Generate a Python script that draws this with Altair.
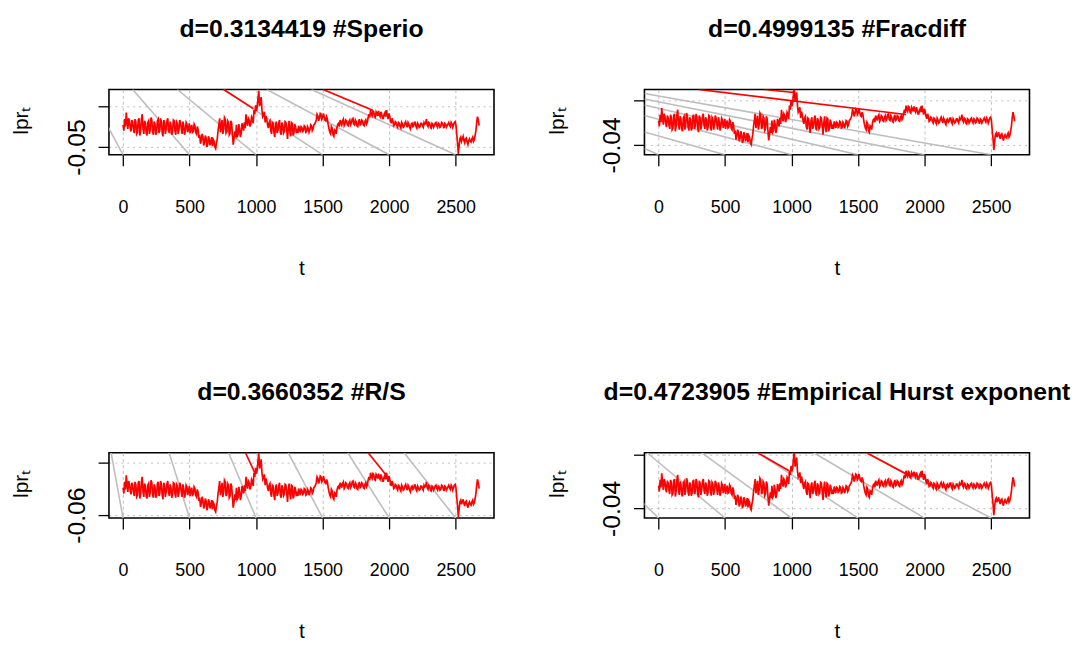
import altair as alt
import pandas as pd

lpr = [
    0.004, 0.018, 0.034, -0.006, 0.014, -0.012, 0.010, -0.016,
    0.012, -0.014, 0.020, -0.010, 0.030, -0.018, 0.008, -0.022, 0.014, -0.008,
    0.016, -0.020, 0.006, -0.014, 0.018, -0.010, 0.012, -0.024, 0.010, -0.006,
    0.020, -0.016, 0.004, -0.012, 0.014, -0.020, 0.008, -0.008, 0.010, -0.018,
    0.002, -0.012, 0.006,
    -0.004, -0.016, 0.004, -0.012, 0.002, -0.018, -0.008,
    -0.020, -0.034, -0.024, -0.040, -0.028, -0.044, -0.030, -0.038, -0.048, -0.036, -0.054, -0.030,
    0.004, -0.014, 0.016, -0.006, 0.018, -0.012, 0.010, -0.016, 0.008,
    -0.044, -0.012, 0.004, -0.020, -0.006, -0.016, 0.000,
    0.010, 0.030, 0.002, 0.016, 0.006, 0.020,
    0.040, 0.052, 0.046, 0.087, 0.060, 0.040,
    0.028, 0.010, 0.018,
    -0.004, 0.014, -0.018, 0.008, -0.026, 0.012, -0.010, 0.016, -0.020, 0.004, -0.012, 0.010,
    -0.030, 0.014, -0.024, 0.008, -0.016, 0.000,
    -0.010, 0.002, -0.014, -0.002, -0.010, 0.000, -0.012, -0.004, -0.008, 0.002, -0.006, 0.006,
    0.016, 0.026, 0.020, 0.030, 0.022, 0.024, 0.014, 0.018,
    -0.006, -0.018, -0.004, -0.024, -0.010, -0.002,
    0.008, 0.016, 0.004, 0.018, 0.006, 0.014, 0.002, 0.016, 0.008, 0.020, 0.004, 0.012,
    0.000, 0.018, 0.006, 0.014, 0.002, 0.016, 0.010,
    0.030, 0.040, 0.026, 0.036, 0.022, 0.032, 0.038, 0.024, 0.030, 0.020, 0.034, 0.040,
    0.018, 0.026, 0.008, 0.014, 0.004,
    0.010, -0.002, 0.008, -0.004, 0.006, 0.000, 0.012, -0.002, 0.006, -0.006, 0.008, 0.002,
    0.010, -0.004, 0.004, 0.000, 0.008, -0.002, 0.006, 0.018, 0.000, 0.008, -0.004, 0.006,
    0.002, 0.010, -0.002, 0.006, 0.000, 0.008, -0.004, 0.006, 0.002, 0.010, 0.000, 0.006,
    0.004, 0.012,
    -0.020, -0.067, -0.030,
    -0.036, -0.024, -0.040, -0.028, -0.044, -0.030, -0.038, -0.026, -0.032,
    -0.010, 0.024, 0.002,
]
lpr_mid = [
    -0.010, 0.000, 0.012, 0.020, -0.004, 0.016, -0.006, 0.018,
    -0.018, 0.016, -0.022, 0.018, -0.006, 0.014, -0.016, 0.010, -0.018, 0.022,
    -0.012, 0.012, -0.020, 0.014, -0.016, 0.020, -0.014, 0.016, -0.018, 0.014,
    -0.008, 0.012, -0.020, 0.016, -0.010, 0.012, -0.018, 0.016, -0.006, 0.012,
    -0.020, 0.010, -0.014,
    0.008, -0.004, -0.014, 0.006, -0.014, 0.000, -0.028,
    -0.042, -0.018, -0.046, -0.022, -0.050, -0.024, -0.046, -0.026, -0.032, -0.050, -0.040, -0.010,
    0.020, -0.002, -0.018, 0.022, -0.016, 0.014, -0.020, 0.014, -0.020,
    -0.030, -0.026, -0.024, 0.006, -0.026, 0.008, -0.010,
    -0.004, 0.012, 0.020, 0.000, 0.024, 0.008,
    0.030, 0.038, 0.068, 0.050, 0.072, 0.024,
    0.036, 0.026, 0.004,
    0.010, -0.010, 0.010, -0.014, 0.004, -0.016, 0.008, -0.014, 0.010, -0.016, 0.012, -0.008,
    -0.002, -0.012, 0.010, -0.022, 0.006, -0.016,
    -0.016, -0.006, 0.000, -0.012, 0.002, -0.014, 0.000, -0.014, 0.004, -0.010, 0.004, 0.010,
    0.030, 0.014, 0.032, 0.018, 0.032, 0.016, 0.024, 0.004,
    -0.014, 0.000, -0.020, -0.008, -0.018, 0.006,
    0.000, 0.010, 0.014, 0.002, 0.016, 0.004, 0.012, 0.004, 0.018, 0.006, 0.016, 0.002,
    0.012, 0.004, 0.016, 0.004, 0.012, 0.006, 0.022,
    0.022, 0.030, 0.038, 0.024, 0.036, 0.026, 0.028, 0.036, 0.020, 0.030, 0.024, 0.028,
    0.032, 0.014, 0.020, 0.002, 0.012,
    0.002, 0.010, 0.000, 0.010, -0.002, 0.008, 0.004, 0.010, -0.002, 0.006, 0.000, 0.010,
    0.000, 0.008, -0.002, 0.008, 0.002, 0.010, 0.008, 0.004, 0.010, -0.002, 0.008, -0.002,
    0.008, 0.002, 0.008, -0.002, 0.010, 0.002, 0.008, -0.002, 0.006, 0.004, 0.010, -0.002,
    0.010, 0.004,
    -0.040, -0.046, -0.026,
    -0.030, -0.034, -0.030, -0.038, -0.034, -0.036, -0.030, -0.036, -0.022,
    0.010, 0.016,
]
STEP = 12

titles = ["d=0.3134419 #Sperio", "d=0.4999135 #Fracdiff",
          "d=0.3660352 #R/S", "d=0.4723905 #Empirical Hurst exponent"]
# per-panel scaling of the series (panel units)
gain = [1.0, 0.3733, 0.4757, 0.3889]
shift = [0.0, -0.0196, -0.0306, -0.0204]
ymin = [-0.069, -0.0489, -0.0634, -0.0491]
ymax = [0.0905, 0.0098, 0.0113, 0.0120]
yticks = [
    [-0.05, 0.0, 0.05],
    [-0.04, -0.03, -0.02, -0.01, 0.0],
    [-0.06, -0.05, -0.04, -0.03, -0.02, -0.01, 0.0],
    [-0.04, -0.03, -0.02, -0.01, 0.0, 0.01],
]
ylabels = ["-0.05", "-0.04", "-0.06", "-0.04"]
xticks = [0, 500, 1000, 1500, 2000, 2500]
xdom = [-106, 2788]

# gray lines: bottom point t (at ymin) to upper point (t, y)
gray_bottom_t = [0, 500, 1000, 1500, 2000, 2500]
gray_top_t = [
    [-264, 72, 408, 756, 1080, 1416],
    [-106, -106, -106, -106, -106, -106],
    [-90, 346, 793, 1241, 1689, 2112],
    [-500, -86, 323, 744, 1166, 1563],
]
gray_top_y = [
    None,
    [-0.0433, -0.0284, -0.0136, -0.0042, 0.0012, 0.0062],
    None,
    None,
]
# red segments: (t_start, y_start, t_end, y_end)
red_t0 = [[756, 1503], [300, 794], [920, 1842], [745, 1563]]
red_y0 = [[0.0905, 0.0905], [0.0098, 0.0098], [0.0113, 0.0113], [0.0120, 0.0120]]
red_t1 = [[980, 1876], [1860, 1017], [995, 1992], [980, 1885]]
red_y1 = [[0.0437, 0.040], [-0.0127, 0.0071], [-0.0132, -0.017], [-0.0049, -0.0096]]

FONT = "Liberation Sans"

# interleave samples and mid-points into one ordered series
series_t, series_v = [], []
for i, v in enumerate(lpr):
    series_t.append(STEP * i)
    series_v.append(v)
    if i < len(lpr_mid):
        series_t.append(STEP * i + STEP // 2)
        series_v.append(lpr_mid[i])


def panel(p):
    xs = alt.Scale(domain=xdom, nice=False, zero=False)
    ys = alt.Scale(domain=[ymin[p], ymax[p]], nice=False, zero=False)
    low = yticks[p][0]
    xaxis = alt.Axis(values=xticks, title="t", format="d", grid=True, gridColor="#BEBEBE",
                     gridDash=[3, 3], gridWidth=1, domain=False, tickColor="black",
                     tickSize=11, tickWidth=1.3, labelFontSize=18, labelFont=FONT,
                     labelColor="black", labelPadding=33, labelFlush=False,
                     titleFont=FONT, titleFontSize=21, titleFontWeight="normal",
                     titleColor="black", titlePadding=42)
    yaxis = alt.Axis(values=yticks[p], title="lprₜ", grid=True, gridColor="#BEBEBE",
                     gridDash=[2, 4], gridWidth=1, domain=False, tickColor="black",
                     tickSize=11, tickWidth=1.3, labelFontSize=25, labelFont=FONT,
                     labelColor="black", labelAngle=-90, labelAlign="center",
                     labelBaseline="bottom", labelPadding=9, labelOverlap=False,
                     labelExpr=f"abs(datum.value - ({low})) < 1e-9 ? '{ylabels[p]}' : ''",
                     titleFont=FONT, titleFontSize=21, titleFontWeight="normal",
                     titleColor="black", titleX=-88, titleY=31, titleAngle=270,
                     titleAlign="center", titleBaseline="middle")

    ser = pd.DataFrame({"t": series_t, "y": [v * gain[p] + shift[p] for v in series_v]})
    tops_y = gray_top_y[p] if gray_top_y[p] is not None else [ymax[p]] * 6
    gray = pd.DataFrame({"t0": gray_bottom_t, "y0": [ymin[p]] * 6,
                         "t1": gray_top_t[p], "y1": tops_y})
    red = pd.DataFrame({"t0": red_t0[p], "y0": red_y0[p],
                        "t1": red_t1[p], "y1": red_y1[p]})

    base_axes = alt.Chart(ser).mark_line(color="red", strokeWidth=1.7, clip=True).encode(
        x=alt.X("t:Q", scale=xs, axis=xaxis),
        y=alt.Y("y:Q", scale=ys, axis=yaxis),
    )
    g = alt.Chart(gray).mark_rule(color="#BEBEBE", strokeWidth=1.6, clip=True).encode(
        x=alt.X("t0:Q", scale=xs), y=alt.Y("y0:Q", scale=ys),
        x2="t1:Q", y2="y1:Q")
    r = alt.Chart(red).mark_rule(color="red", strokeWidth=1.7, clip=True).encode(
        x=alt.X("t0:Q", scale=xs), y=alt.Y("y0:Q", scale=ys),
        x2="t1:Q", y2="y1:Q")
    return alt.layer(g, base_axes, r).properties(
        width=389, height=66,
        view=alt.ViewBackground(stroke="black", strokeWidth=1.6),
        title=alt.Title(titles[p], font=FONT, fontSize=25, fontWeight="bold",
                        color="black", anchor="middle", offset=48),
    )


chart = alt.concat(
    panel(0), panel(1), panel(2), panel(3),
    columns=2, bounds="flush", spacing={"row": 301, "column": 152},
).configure_view(
    stroke="black", strokeWidth=1.6
).configure(background="white").properties(
    padding={"left": 2, "top": 5, "right": 5, "bottom": 5}
)

chart.save("out.html", embed_options={"renderer": "svg", "actions": False})
